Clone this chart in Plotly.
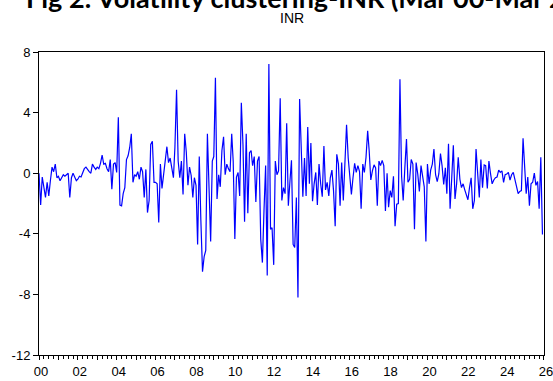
import pandas as pd
import plotly.graph_objects as go

# Monthly INR returns (%), Mar 2000 onwards
inr_2000_2008 = [
    0, -2.1, -0.25, -0.9, -1.6, -0.6, -1.5, -0.5, 0.4, 0.1, 0.6, -0.3, -0.2, -0.5,
    -0.3, -0.1, -0.2, -0.1, 0, -1.6, -0.3, 0, -0.3, -0.5, -0.4, -0.2, -0.25, 0.0,
    0.3, 0.4, 0.2, 0.1, 0, 0.6, 0.4, 0.25, 0.4, 0.3, 0.65, 1.2, 0.6, 0.65, 0.3,
    0.1, 0.9, -1.05, 0.6, 0.7, 0.05, 3.7, -2.1, -2.15, -1.35, -0.95, 0.9, 1.15,
    1.7, 2.6, -0.6, -0.1, -0.2, 0.1, -0.4, 0.4, 0.1, -1.6, 0.25, -2.6, -1.8, 1.9,
    2.1, -0.6, -0.6, -0.7, -3.25, 0.6, -1.0, -0.05, 1.2, 1.75, 0.7, 1.0, 0.35,
    -0.3, 1.7, 5.5, 0.8, -0.3, 0.8, -1.4, 2.6, 1.4, -0.8, 0.4, -0.15, -1.6, -0.3,
    -0.8, -4.7,
]
inr_2008_2016 = [
    1.1, -3.1, -6.5, -5.5, -5.1, 2.6, -1.0, -4.5, 0.8, 1.1, 6.3, -1.7,
    -0.1, -0.9, 1.5, 2.4, -0.1, 0.6, 0.3, 0.1, 2.6, 0.8, -4.35,
    -0.25, 0.05, -1.5, 4.65, 1.9, -3.2, 2.6, -2.65, 1.35, 1.5, 0.5,
    1.1, -1.9, 0.8, 1.1, -4.35, -5.9, -2.5, 0.5, -6.75, 7.2, -3.7,
    -3.6, -6.05, 0.8, -0.1, 0.15, 4.95, -1.8, -0.95, -1.35, 3.3,
    -2.15, -0.5, 0.85, -4.7, -4.9, -1.6, -8.2, 4.9, 2.1, -1.55,
    1.0, -1.5, 3.05, -0.7, 2.0, -1.85, -0.7, 0.05, -2.1, 0.6,
    -0.7, -1.55, 1.8, -1.1, -0.6, -1.5, -0.3, 0.2, -1.15, -3.5, 1.25,
    0.6, -2.15, 0.7, -1.8, 0.4, 3.2, 1.0, -0.5, -1.4, -0.3, 0.65,
    0.05, 0.5,
]
inr_2016_2026 = [
    0.1, -2.35, 0.6, 0.05, 1.05, 2.8, 1.5, -0.45, 0.15, 0.55,
    0.35, -2.15, 0.8, 0.5, 0.85, 0.5, -2.5, 0, -2.25, -1.15,
    -1.6, -0.2, -3.5, -2.05, -2.0, 6.2, -0.2, -1.8, 0.35, 2.25,
    -0.6, -0.4, 0.9, 0.6, -3.7, 0.7, -0.05, -1.2, 0.5, -0.25,
    -0.9, -4.5, 0.6, -0.7, 0.2, 0.6, 1.6, -0.1, -0.55, -0.05,
    1.3, 0.5, -0.75, 0.35, -1.35, 1.95, -2.35, -0.3, 1.85, -1.7,
    -0.7, 1.05, -0.4, -0.95, -0.7, -1.1, -1.35, -1.75, -0.95, -0.3,
    -2.35, -1.8, 1.6, -0.3, -1.6, 0.9, -0.95, 0.55, 0.5, -1.0,
    0.8, -0.05, -0.7, -0.45, -0.3, -0.25, 0.2, 0.05, 0.15, -0.6,
    -0.1, -0.05, 0.05, -0.45, -0.1, 0.05, -0.4, -0.7, -1.35, -1.2,
    -1.15, 2.3, 0.6, -1.35, -0.25, -2.15, -0.7, -0.6, 0, -0.8,
    -0.55, -2.35, 1.05, -4.05,
]
inr_values = inr_2000_2008 + inr_2008_2016 + inr_2016_2026

start_month = "2000-03-01"
end_month = "2026-03-02"
dates = pd.date_range(start_month, periods=len(inr_values), freq="MS")

years = list(range(2000, 2027))
year_ticks = [f"{y}-03-01" for y in years]
year_labels = [f"{y % 100:02d}" if y % 2 == 0 else "" for y in years]

y_ticks = [-12, -8, -4, 0, 4, 8]
y_labels = ["-12", "-8", "-4", "0", "4", "8"]

title_text = "Fig 2: Volatility clustering-INR (Mar'00-Mar'26)"
series_name = "INR"

fig = go.Figure()
fig.add_trace(go.Scatter(
    x=dates, y=inr_values, mode="lines",
    line=dict(color="#0000FF", width=1.2),
    name=series_name, showlegend=False, hoverinfo="skip",
))

W, H = 553, 381
L, R, T, B = 39, 9, 52, 26
PH = H - T - B
PW = W - L - R

def py(p):
    return (H - B - p) / PH

def px(p):
    return (p - L) / PW

fig.update_layout(
    width=W, height=H,
    margin=dict(l=L, r=R, t=T, b=B, autoexpand=False),
    paper_bgcolor="white", plot_bgcolor="white",
    font=dict(family="Liberation Sans, Arial", size=13, color="black"),
    hovermode=False,
    xaxis=dict(
        type="date", range=[start_month, end_month],
        tickvals=year_ticks, ticktext=year_labels,
        ticks="outside", ticklen=4, tickwidth=1, tickcolor="black",
        ticklabelshift=2, ticklabeloverflow="allow",
        minor=dict(dtick="M3", tick0=start_month, ticks="outside", ticklen=3,
                   tickwidth=1, tickcolor="black", showgrid=False),
        showgrid=False, zeroline=False,
        showline=True, linecolor="black", linewidth=1, mirror=True,
        tickfont=dict(size=13),
    ),
    yaxis=dict(
        range=[-12, 8], tickvals=y_ticks, ticktext=y_labels,
        ticks="outside", ticklen=5, tickwidth=1, tickcolor="black",
        showgrid=False, zeroline=False,
        showline=True, linecolor="black", linewidth=1, mirror=True,
        tickfont=dict(size=13),
    ),
    annotations=[
        dict(text=f"<b>{title_text}</b>", xref="paper", yref="paper",
             x=px(24), y=py(16), xanchor="left", yanchor="bottom",
             showarrow=False, font=dict(family="Lato", size=27, color="black")),
        dict(text=series_name, xref="paper", yref="paper",
             x=0.5, y=py(18), xanchor="center", yanchor="middle",
             showarrow=False, font=dict(family="Liberation Sans, Arial", size=14)),
    ],
)

fig.write_html("out.html", config={"displayModeBar": False},
               post_script="document.body.style.margin='0';")
